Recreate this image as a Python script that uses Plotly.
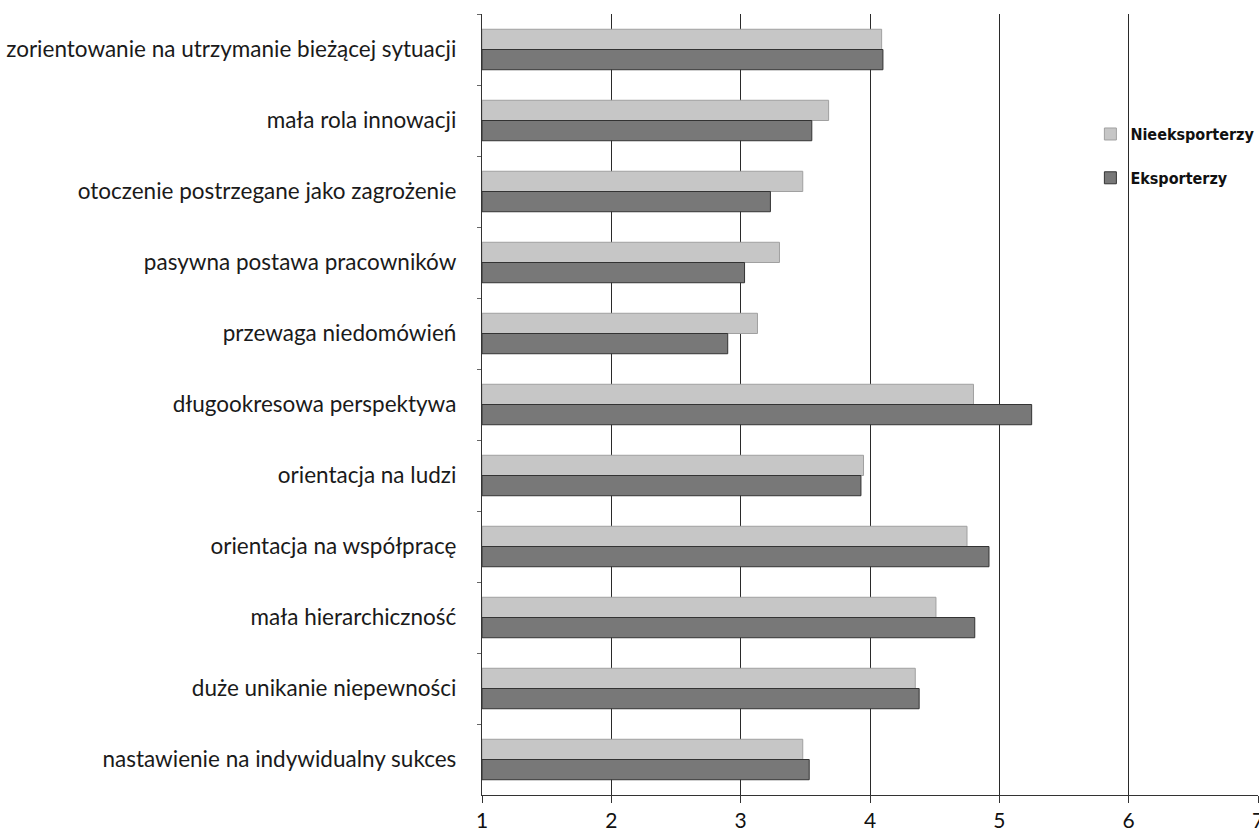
import plotly.graph_objects as go

categories = [
    "zorientowanie na utrzymanie bieżącej sytuacji",
    "mała rola innowacji",
    "otoczenie postrzegane jako zagrożenie",
    "pasywna postawa pracowników",
    "przewaga niedomówień",
    "długookresowa perspektywa",
    "orientacja na ludzi",
    "orientacja na współpracę",
    "mała hierarchiczność",
    "duże unikanie niepewności",
    "nastawienie na indywidualny sukces",
]
nieeksporterzy = [4.09, 3.68, 3.48, 3.30, 3.13, 4.80, 3.95, 4.75, 4.51, 4.35, 3.48]
eksporterzy = [4.10, 3.55, 3.23, 3.03, 2.90, 5.25, 3.93, 4.92, 4.81, 4.38, 3.53]
x_ticks = [1, 2, 3, 4, 5, 6, 7]
axis_origin = 1

fig = go.Figure()
fig.add_trace(go.Bar(
    y=categories, x=[v - axis_origin for v in nieeksporterzy],
    base=[axis_origin] * len(nieeksporterzy),
    orientation="h", name="Nieeksporterzy", legendgroup="a",
    marker=dict(color="#c6c6c6", line=dict(color="#a0a0a0", width=1)),
))
fig.add_trace(go.Bar(
    y=categories, x=[v - axis_origin for v in eksporterzy],
    base=[axis_origin] * len(eksporterzy),
    orientation="h", name="Eksporterzy", legendgroup="b",
    marker=dict(color="#787878", line=dict(color="#333333", width=1)),
))

fig.update_layout(
    width=1259, height=832,
    margin=dict(l=482, r=1, t=14, b=37, autoexpand=False),
    plot_bgcolor="white", paper_bgcolor="white",
    barmode="group", bargap=0.43, bargroupgap=0,
    font=dict(family="Lato, 'Noto Sans', sans-serif", color="#1a1a1a"),
    legend=dict(
        x=0.784, y=0.868, xanchor="left", yanchor="top",
        bgcolor="rgba(255,255,255,0)",
        font=dict(family="'DejaVu Sans Condensed', 'Open Sans', sans-serif",
                  size=16, color="#111", weight="bold"),
        tracegroupgap=20,
        traceorder="grouped",
        itemwidth=30,
    ),
    showlegend=True,
)
fig.update_xaxes(
    range=[1, 7], tickvals=x_ticks, ticktext=[str(t) for t in x_ticks],
    showgrid=True, gridcolor="#2a2a2a", gridwidth=1.3,
    showline=True, linecolor="#333", linewidth=1.3,
    ticks="outside", ticklen=7, tickcolor="#333",
    tickfont=dict(size=21, family="Lato, sans-serif", color="#111"),
    ticklabeloverflow="allow", automargin=False,
    zeroline=False,
)
fig.update_yaxes(
    autorange="reversed",
    showline=True, linecolor="#333", linewidth=1.3,
    ticks="outside", ticklen=4, tickcolor="#666", tickson="boundaries",
    tickfont=dict(size=22.5, family="Lato, sans-serif", color="#1a1a1a"),
    ticklabelstandoff=20, automargin=False,
    showgrid=False,
)
fig.write_html(
    "out.html",
    config={"displayModeBar": False},
    post_script="document.body.style.margin='0';document.body.style.overflow='hidden';",
)
